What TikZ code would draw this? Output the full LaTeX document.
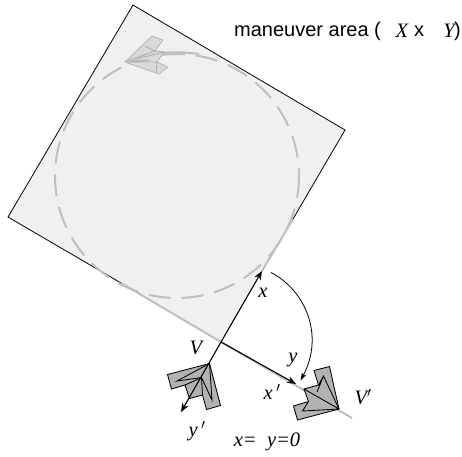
\documentclass[tikz,border=0pt]{standalone}
\usepackage{fontspec}
\setmainfont{Liberation Serif}
\newfontfamily\arialf{Liberation Sans}
\usetikzlibrary{arrows.meta}
\tikzset{
  pathg/.style={draw=black!25,line width=2pt},
  plane/.style={draw=black,fill=black!30,line width=.85pt,line join=miter},
  fold/.style={draw=black,line width=.85pt},
  ghost/.style={draw=black!28,fill=black!15,line width=.9pt},
  ghostfold/.style={draw=black!32,line width=.9pt},
  axis/.style={draw=black,line width=1.1pt,-{Stealth[length=9pt,width=7pt]}},
  lab/.style={font=\itshape\fontsize{20.5}{20.5}\selectfont,inner sep=0pt},
  titl/.style={font=\arialf\fontsize{20}{20}\selectfont,inner sep=0pt,anchor=west},
}
\begin{document}
\begin{tikzpicture}[x=1pt,y=-1pt]
\useasboundingbox (0,0) rectangle (462,456);
% area
\coordinate (T) at (133,5);
\coordinate (R) at (345,130);
\coordinate (B) at (221,342);
\coordinate (L) at (8,217);
\coordinate (Rg) at (293,219);
\coordinate (Lg) at (121,283);
\coordinate (Xtip) at (262,271);
\coordinate (Ytip) at (296,384);
\coordinate (Yend) at (352,418);
\coordinate (Xtail) at (181,412);
\fill[black!6] (T)--(R)--(B)--(L)--cycle;
\draw[line width=.8pt] (Rg)--(R)--(T)--(L)--(Lg);
\draw[pathg] (Lg)--(B);
\draw[pathg] (Rg)--(Xtip);
\draw[pathg] (B)--(Yend);
% circle
\draw[pathg,dash pattern=on 22pt off 11pt] (177,176) circle[radius=122];
\draw[pathg] (125,62) .. controls (145,53) and (170,50) .. (199,54);
% ghost plane
\coordinate (G) at (125,62);
\draw[ghost] (G)--(152,36)--(163,40)--(155,51)--(164,52)--(157,62)--(168,67)--(159,74)--cycle;
\draw[ghostfold] (G)--(155,51)--(145,46) (G)--(157,62)--(156,72) (G)--(164,52) (G)--(150,60);
\draw[pathg] (125,62)--(145,56);
% plane V
\coordinate (P) at (209.5,363.5);
\draw[plane] (P)--(167.5,374.5)--(171.5,389)--(185,385)--(189.5,398.5)--(202.5,395)--(206.5,409.5)--(220.5,405.5)--cycle;
\draw[fold] (P)--(177,381)--(201.5,377.5)--(202.5,395);
\draw[fold] (P)--(212,400)--(201.5,377.5) (185,385)--(201.5,377.5);
% plane V'
\coordinate (Q) at (339,409);
\draw[plane] (Q)--(329.5,366.5)--(314,370.5)--(318.5,385)--(304,389)--(308.5,401.5)--(293.5,406)--(297.5,420)--cycle;
\draw[fold] (Q)--(323.5,376)--(318.5,385) (323.5,376)--(317,392);
\draw[fold] (Q)--(302.5,411)--(308.5,401.5) (Q)--(304,389);
% axes
\draw[axis] (B)--(Xtip);
\draw[axis] (B)--(Xtail);
\draw[axis] (B)--(Ytip);
% swing arc
\coordinate (A1) at (271,272.5);
\coordinate (A2) at (300.5,380.5);
\draw[line width=.8pt,-{Stealth[length=8pt,width=5pt]}] (A1) .. controls (305,290) and (325,335) .. (A2);
% labels
\node[titl] (title) at (234,31) {maneuver area (};
\node[lab] (lX) at (402,31) {X};
\node[titl,anchor=center] (lx) at (419,31) {x};
\node[lab] (lY) at (449,31) {Y};
\node[titl,anchor=east] (lp) at (461,31) {)};
\node[lab] (vv) at (196,348) {V};
\node[lab] (yp) at (197,431) {y\,$'$};
\node[lab] (xx) at (263,293) {x};
\node[lab] (yy) at (293,360) {y};
\node[lab] (xp) at (272,392) {x\,$'$};
\node[lab] (vp) at (363,397) {V$'$};
\node[lab] (eq) at (267,442) {x=\ \ y=0};
\end{tikzpicture}
\end{document}
